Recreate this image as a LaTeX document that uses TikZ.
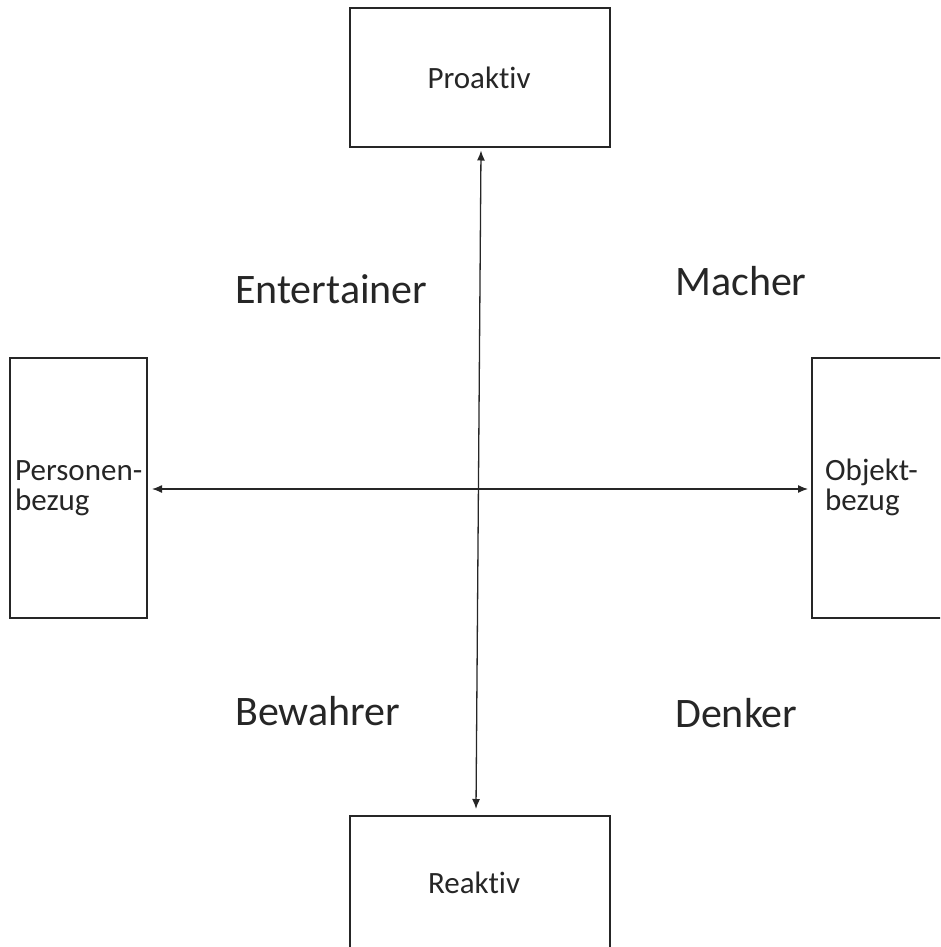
\documentclass[tikz,border=0pt]{standalone}
\usepackage{fontspec}
\setmainfont{Carlito}[Ligatures={NoCommon}]
\usetikzlibrary{arrows.meta,calc}
\begin{document}
\begin{tikzpicture}[x=1pt,y=-1pt,
  box/.style={draw=black!85,line width=2pt,inner sep=0pt},
  conn/.style={draw=black!85,line width=1.3pt,{Latex[length=10pt,width=8pt]}-{Latex[length=10pt,width=8pt]}},
  boxtext/.style={inner sep=0pt,font=\fontsize{31}{34}\selectfont,text=black!85},
  quad/.style={inner sep=0pt,font=\fontsize{42}{46}\selectfont,text=black!85}]
\useasboundingbox (0,0) rectangle (940,947);
\clip (0,0) rectangle (940,947);
% boxes
\node[box,minimum width=260pt,minimum height=138pt] (top) at (480,77.5) {};
\node[box,minimum width=137pt,minimum height=260pt] (left) at (78.5,488) {};
\node[box,minimum width=140pt,minimum height=260pt] (right) at (882,488) {};
\node[box,minimum width=260pt,minimum height=140pt] (bot) at (480,886) {};
% box texts
\node[boxtext,anchor=base] (tproaktiv) at (479,89) {Proaktiv};
\node[boxtext,anchor=base] (treaktiv) at (474,893) {Reaktiv};
\node[boxtext,anchor=base west] (tpers1) at (15,480) {Personen-};
\node[boxtext,anchor=base west] (tpers2) at (15,510) {bezug};
\node[boxtext,anchor=base west] (tobj1) at (825,480) {Objekt-};
\node[boxtext,anchor=base west] (tobj2) at (825,510) {bezug};
% quadrant labels
\node[quad,anchor=base west] (ent) at (235,303) {Entertainer};
\node[quad,anchor=base west] (mach) at (675,295) {Macher};
\node[quad,anchor=base west] (bew) at (235,725) {Bewahrer};
\node[quad,anchor=base west] (denk) at (675,727) {Denker};
% axes
\coordinate (vt) at ($(top.south)+(1,3)$);
\coordinate (vb) at ($(bot.north)+(-4,-6)$);
\coordinate (hl) at ($(left.east)+(4,1)$);
\coordinate (hr) at ($(right.west)+(-3,1)$);
\draw[conn] (vt) -- (vb);
\draw[conn] (hl) -- (hr);
\end{tikzpicture}
\end{document}
